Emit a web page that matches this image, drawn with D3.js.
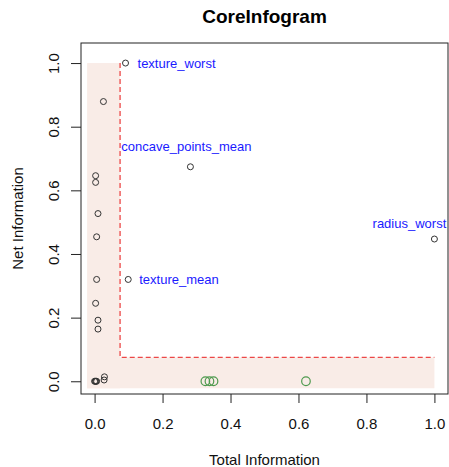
<!DOCTYPE html>
<html>
<head>
<meta charset="utf-8">
<script src="https://cdn.jsdelivr.net/npm/d3@7"></script>
<style>
  body { margin: 0; background: #fff; }
  text { font-family: "Liberation Sans", Arial, sans-serif; }
</style>
</head>
<body>
<div id="chart"></div>
<script>
// Chart data
var featureLabels = ["texture_worst", "", "concave_points_mean", "", "", "", "", "", "texture_mean",
                     "", "", "", "radius_worst", "", "", "", "", "", "", "", "", "", ""];
var totalInfo = [0.091, 0.026, 0.282, 0.003, 0.003, 0.010, 0.006, 0.006, 0.099,
                 0.003, 0.010, 0.010, 1.000, 0.000, 0.002, 0.004, 0.006, 0.028, 0.029,
                 0.326, 0.338, 0.350, 0.622];
var netInfo = [1.000, 0.879, 0.674, 0.646, 0.625, 0.527, 0.454, 0.320, 0.320,
               0.245, 0.192, 0.164, 0.447, 0.000, 0.000, 0.000, 0.000, 0.004, 0.014,
               0.000, 0.000, 0.000, 0.000];
var isCore = [0, 0, 0, 0, 0, 0, 0, 0, 0,
              0, 0, 0, 0, 0, 0, 0, 0, 0, 0,
              1, 1, 1, 1];
var xTicks = [0, 0.2, 0.4, 0.6, 0.8, 1.0];
var yTicks = [0, 0.2, 0.4, 0.6, 0.8, 1.0];
var cutoffX = 0.075; // threshold for total information
var cutoffY = 0.075; // threshold for net information

// label placement tweaks (pixels)
var labelOffsets = {
    "texture_worst": { dx: 12, dy: 0, anchor: "start" },
    "texture_mean": { dx: 11, dy: 0, anchor: "start" },
    "concave_points_mean": { dx: -4, dy: -20, anchor: "middle" },
    "radius_worst": { dx: -25, dy: -16, anchor: "middle" }
};

function init() {
    var w = 449, h = 467;
    var box = { left: 81, right: 448, top: 43, bottom: 394 };

    var svg = d3.select("#chart").append("svg")
        .attr("width", w)
        .attr("height", h);

    var x = d3.scaleLinear().domain([-0.04, 1.04]).range([box.left, box.right]);
    var y = d3.scaleLinear().domain([-0.04, 1.063]).range([box.bottom, box.top]);

    // shaded zone (L shape)
    var shade = "#f9ece7";
    svg.append("rect")
        .attr("x", x(-0.022)).attr("y", y(1.0))
        .attr("width", x(cutoffX) - x(-0.022))
        .attr("height", y(-0.022) - y(1.0))
        .attr("fill", shade);
    svg.append("rect")
        .attr("x", x(-0.022)).attr("y", y(cutoffY))
        .attr("width", x(1.0) - x(-0.022))
        .attr("height", y(-0.022) - y(cutoffY))
        .attr("fill", shade);

    // dashed cutoff line
    svg.append("path")
        .attr("d", d3.line()([[x(cutoffX), y(1.0)], [x(cutoffX), y(cutoffY)], [x(1.0), y(cutoffY)]]))
        .attr("fill", "none")
        .attr("stroke", "#ec4848")
        .attr("stroke-width", 1.3)
        .attr("stroke-dasharray", "5,3");

    // axes
    var xAxis = svg.append("g")
        .attr("transform", `translate(0, ${box.bottom})`)
        .call(d3.axisBottom(x).tickValues(xTicks).tickSize(9).tickFormat(d3.format(".1f")));
    xAxis.select(".domain").remove();
    xAxis.selectAll("line").attr("stroke", "#222");
    xAxis.selectAll("text")
        .attr("y", 35).attr("dy", 0)
        .attr("fill", "#111")
        .style("font-size", "15px");

    var yAxis = svg.append("g")
        .attr("transform", `translate(${box.left}, 0)`)
        .call(d3.axisLeft(y).tickValues(yTicks).tickSize(10).tickFormat(d3.format(".1f")));
    yAxis.select(".domain").remove();
    yAxis.selectAll("line").attr("stroke", "#222");
    yAxis.selectAll("text")
        .attr("transform", "rotate(-90)")
        .attr("x", 0).attr("y", -22).attr("dy", 0)
        .attr("text-anchor", "middle")
        .attr("fill", "#111")
        .style("font-size", "15px");

    // plot box
    svg.append("rect")
        .attr("x", box.left).attr("y", box.top)
        .attr("width", box.right - box.left)
        .attr("height", box.bottom - box.top)
        .attr("fill", "none")
        .attr("stroke", "#222")
        .attr("stroke-width", 1);

    // points
    var points = totalInfo.map(function (t, i) {
        return { label: featureLabels[i], total: t, net: netInfo[i], core: isCore[i] };
    });

    svg.selectAll("circle.pt")
        .data(points)
        .enter()
        .append("circle")
        .attr("class", "pt")
        .attr("cx", d => x(d.total))
        .attr("cy", d => y(d.net))
        .attr("r", d => d.core ? 4.3 : 3)
        .attr("fill", "none")
        .attr("stroke", d => d.core ? "#4f9a4f" : "#333")
        .attr("stroke-width", d => d.core ? 1.2 : 1);

    // labels
    svg.selectAll("text.lbl")
        .data(points.filter(d => d.label !== ""))
        .enter()
        .append("text")
        .attr("class", "lbl")
        .attr("x", d => x(d.total) + labelOffsets[d.label].dx)
        .attr("y", d => y(d.net) + labelOffsets[d.label].dy)
        .attr("dy", "0.35em")
        .attr("text-anchor", d => labelOffsets[d.label].anchor)
        .attr("fill", "#1a1aff")
        .style("font-size", "13px")
        .text(d => d.label);

    // titles
    svg.append("text")
        .attr("x", (box.left + box.right) / 2)
        .attr("y", 23)
        .attr("text-anchor", "middle")
        .style("font-size", "19px")
        .style("font-weight", "bold")
        .text("CoreInfogram");

    svg.append("text")
        .attr("x", (box.left + box.right) / 2)
        .attr("y", 465)
        .attr("text-anchor", "middle")
        .attr("fill", "#111")
        .style("font-size", "15px")
        .text("Total Information");

    svg.append("text")
        .attr("transform", `translate(23, ${(box.top + box.bottom) / 2}) rotate(-90)`)
        .attr("text-anchor", "middle")
        .attr("fill", "#111")
        .style("font-size", "15px")
        .text("Net Information");
}

window.onload = init;
</script>
</body>
</html>
